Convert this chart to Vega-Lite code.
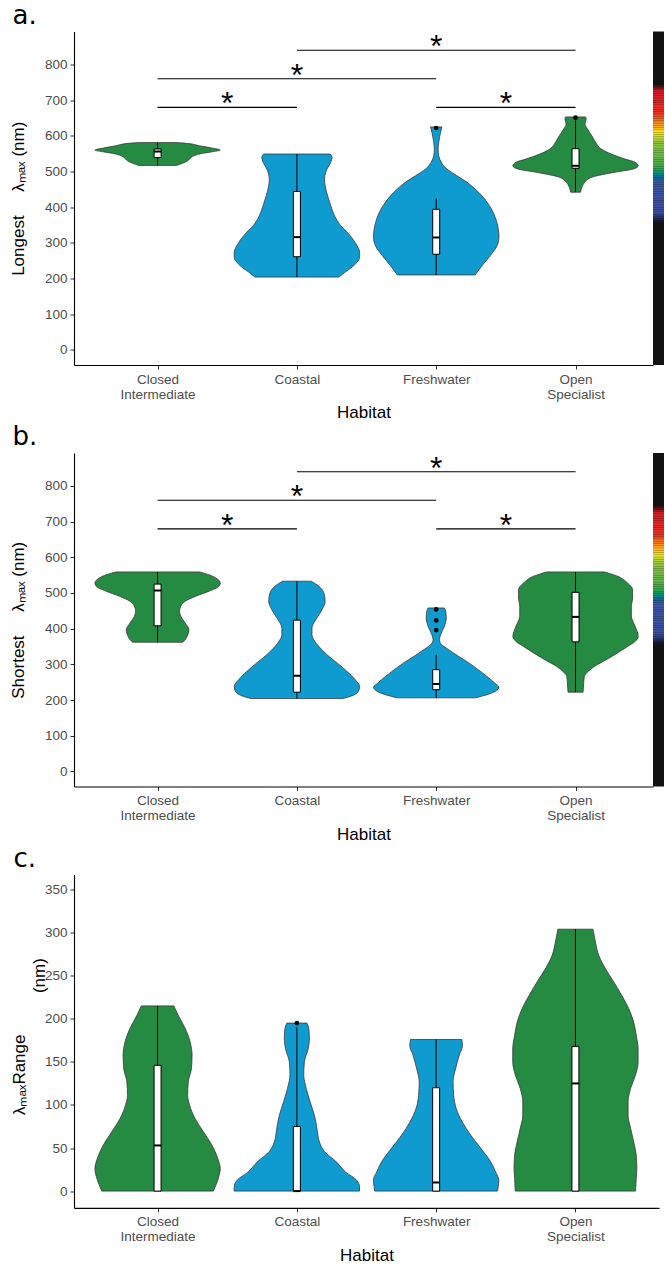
{
  "$schema": "https://vega.github.io/schema/vega-lite/v6.json",
  "padding": {"left": 9, "top": 2.5, "right": 0, "bottom": 0},
  "background": "#ffffff",
  "config": {
    "view": {"stroke": null},
    "axis": {"domainColor": "#000000", "domainWidth": 1.1, "tickColor": "#333333", "tickWidth": 1, "tickSize": 4, "labelColor": "#4d4d4d", "labelFont": "Liberation Sans", "labelFontSize": 13.5, "labelPadding": 3, "titleFont": "Liberation Sans", "titleFontSize": 17, "titleFontWeight": "normal", "titleColor": "#000000", "grid": false},
    "title": {"font": "DejaVu Sans", "fontSize": 26, "fontWeight": "normal", "color": "#000000", "anchor": "start", "frame": "bounds", "offset": 2.5, "dx": 3}
  },
  "datasets": {
    "va": [
      {"habitat": "Closed Intermediate", "v": 581, "density": 0.30}, {"habitat": "Closed Intermediate", "v": 579, "density": 0.46}, {"habitat": "Closed Intermediate", "v": 572, "density": 0.67}, {"habitat": "Closed Intermediate", "v": 566, "density": 0.86}, {"habitat": "Closed Intermediate", "v": 560, "density": 1.00}, {"habitat": "Closed Intermediate", "v": 555, "density": 0.86}, {"habitat": "Closed Intermediate", "v": 551, "density": 0.72}, {"habitat": "Closed Intermediate", "v": 546, "density": 0.61}, {"habitat": "Closed Intermediate", "v": 540, "density": 0.54}, {"habitat": "Closed Intermediate", "v": 530, "density": 0.48}, {"habitat": "Closed Intermediate", "v": 523, "density": 0.40}, {"habitat": "Closed Intermediate", "v": 517, "density": 0.30},
      {"habitat": "Coastal", "v": 549, "density": 0.53}, {"habitat": "Coastal", "v": 540, "density": 0.56}, {"habitat": "Coastal", "v": 526, "density": 0.54}, {"habitat": "Coastal", "v": 507, "density": 0.48}, {"habitat": "Coastal", "v": 479, "density": 0.44}, {"habitat": "Coastal", "v": 460, "density": 0.45}, {"habitat": "Coastal", "v": 432, "density": 0.49}, {"habitat": "Coastal", "v": 404, "density": 0.54}, {"habitat": "Coastal", "v": 376, "density": 0.60}, {"habitat": "Coastal", "v": 348, "density": 0.70}, {"habitat": "Coastal", "v": 330, "density": 0.80}, {"habitat": "Coastal", "v": 311, "density": 0.89}, {"habitat": "Coastal", "v": 292, "density": 0.96}, {"habitat": "Coastal", "v": 274, "density": 1.00}, {"habitat": "Coastal", "v": 260, "density": 1.00}, {"habitat": "Coastal", "v": 246, "density": 0.96}, {"habitat": "Coastal", "v": 232, "density": 0.88}, {"habitat": "Coastal", "v": 218, "density": 0.77}, {"habitat": "Coastal", "v": 204, "density": 0.67},
      {"habitat": "Freshwater", "v": 625, "density": 0.09}, {"habitat": "Freshwater", "v": 610, "density": 0.07}, {"habitat": "Freshwater", "v": 582, "density": 0.04}, {"habitat": "Freshwater", "v": 563, "density": 0.03}, {"habitat": "Freshwater", "v": 544, "density": 0.04}, {"habitat": "Freshwater", "v": 526, "density": 0.08}, {"habitat": "Freshwater", "v": 507, "density": 0.17}, {"habitat": "Freshwater", "v": 488, "density": 0.33}, {"habitat": "Freshwater", "v": 470, "density": 0.49}, {"habitat": "Freshwater", "v": 451, "density": 0.62}, {"habitat": "Freshwater", "v": 432, "density": 0.73}, {"habitat": "Freshwater", "v": 414, "density": 0.81}, {"habitat": "Freshwater", "v": 395, "density": 0.88}, {"habitat": "Freshwater", "v": 367, "density": 0.95}, {"habitat": "Freshwater", "v": 339, "density": 0.99}, {"habitat": "Freshwater", "v": 316, "density": 1.00}, {"habitat": "Freshwater", "v": 292, "density": 0.97}, {"habitat": "Freshwater", "v": 264, "density": 0.86}, {"habitat": "Freshwater", "v": 236, "density": 0.73}, {"habitat": "Freshwater", "v": 210, "density": 0.62},
      {"habitat": "Open Specialist", "v": 653, "density": 0.16}, {"habitat": "Open Specialist", "v": 647, "density": 0.17}, {"habitat": "Open Specialist", "v": 633, "density": 0.15}, {"habitat": "Open Specialist", "v": 619, "density": 0.19}, {"habitat": "Open Specialist", "v": 600, "density": 0.26}, {"habitat": "Open Specialist", "v": 582, "density": 0.32}, {"habitat": "Open Specialist", "v": 563, "density": 0.41}, {"habitat": "Open Specialist", "v": 549, "density": 0.57}, {"habitat": "Open Specialist", "v": 535, "density": 0.79}, {"habitat": "Open Specialist", "v": 526, "density": 0.95}, {"habitat": "Open Specialist", "v": 516, "density": 1.00}, {"habitat": "Open Specialist", "v": 507, "density": 0.92}, {"habitat": "Open Specialist", "v": 498, "density": 0.63}, {"habitat": "Open Specialist", "v": 484, "density": 0.26}, {"habitat": "Open Specialist", "v": 470, "density": 0.15}, {"habitat": "Open Specialist", "v": 456, "density": 0.10}, {"habitat": "Open Specialist", "v": 442, "density": 0.08}
    ],
    "vb": [
      {"habitat": "Closed Intermediate", "v": 559, "density": 0.67}, {"habitat": "Closed Intermediate", "v": 551, "density": 0.82}, {"habitat": "Closed Intermediate", "v": 542, "density": 0.93}, {"habitat": "Closed Intermediate", "v": 528, "density": 1.00}, {"habitat": "Closed Intermediate", "v": 519, "density": 0.98}, {"habitat": "Closed Intermediate", "v": 505, "density": 0.82}, {"habitat": "Closed Intermediate", "v": 491, "density": 0.61}, {"habitat": "Closed Intermediate", "v": 477, "density": 0.44}, {"habitat": "Closed Intermediate", "v": 463, "density": 0.37}, {"habitat": "Closed Intermediate", "v": 449, "density": 0.35}, {"habitat": "Closed Intermediate", "v": 435, "density": 0.37}, {"habitat": "Closed Intermediate", "v": 416, "density": 0.44}, {"habitat": "Closed Intermediate", "v": 397, "density": 0.50}, {"habitat": "Closed Intermediate", "v": 378, "density": 0.47}, {"habitat": "Closed Intermediate", "v": 369, "density": 0.44}, {"habitat": "Closed Intermediate", "v": 362, "density": 0.40},
      {"habitat": "Coastal", "v": 533, "density": 0.23}, {"habitat": "Coastal", "v": 519, "density": 0.35}, {"habitat": "Coastal", "v": 500, "density": 0.43}, {"habitat": "Coastal", "v": 477, "density": 0.45}, {"habitat": "Coastal", "v": 453, "density": 0.40}, {"habitat": "Coastal", "v": 425, "density": 0.30}, {"habitat": "Coastal", "v": 402, "density": 0.24}, {"habitat": "Coastal", "v": 383, "density": 0.24}, {"habitat": "Coastal", "v": 369, "density": 0.27}, {"habitat": "Coastal", "v": 350, "density": 0.35}, {"habitat": "Coastal", "v": 327, "density": 0.48}, {"habitat": "Coastal", "v": 304, "density": 0.64}, {"habitat": "Coastal", "v": 280, "density": 0.80}, {"habitat": "Coastal", "v": 257, "density": 0.93}, {"habitat": "Coastal", "v": 238, "density": 1.00}, {"habitat": "Coastal", "v": 224, "density": 0.98}, {"habitat": "Coastal", "v": 212, "density": 0.88}, {"habitat": "Coastal", "v": 204, "density": 0.73},
      {"habitat": "Freshwater", "v": 458, "density": 0.13}, {"habitat": "Freshwater", "v": 449, "density": 0.15}, {"habitat": "Freshwater", "v": 430, "density": 0.16}, {"habitat": "Freshwater", "v": 407, "density": 0.13}, {"habitat": "Freshwater", "v": 383, "density": 0.07}, {"habitat": "Freshwater", "v": 369, "density": 0.05}, {"habitat": "Freshwater", "v": 355, "density": 0.09}, {"habitat": "Freshwater", "v": 341, "density": 0.20}, {"habitat": "Freshwater", "v": 322, "density": 0.36}, {"habitat": "Freshwater", "v": 304, "density": 0.52}, {"habitat": "Freshwater", "v": 285, "density": 0.67}, {"habitat": "Freshwater", "v": 266, "density": 0.81}, {"habitat": "Freshwater", "v": 248, "density": 0.93}, {"habitat": "Freshwater", "v": 236, "density": 1.00}, {"habitat": "Freshwater", "v": 224, "density": 0.94}, {"habitat": "Freshwater", "v": 215, "density": 0.81}, {"habitat": "Freshwater", "v": 206, "density": 0.62},
      {"habitat": "Open Specialist", "v": 559, "density": 0.46}, {"habitat": "Open Specialist", "v": 547, "density": 0.67}, {"habitat": "Open Specialist", "v": 528, "density": 0.83}, {"habitat": "Open Specialist", "v": 509, "density": 0.91}, {"habitat": "Open Specialist", "v": 486, "density": 0.91}, {"habitat": "Open Specialist", "v": 463, "density": 0.89}, {"habitat": "Open Specialist", "v": 435, "density": 0.89}, {"habitat": "Open Specialist", "v": 407, "density": 0.95}, {"habitat": "Open Specialist", "v": 378, "density": 1.00}, {"habitat": "Open Specialist", "v": 364, "density": 0.95}, {"habitat": "Open Specialist", "v": 350, "density": 0.83}, {"habitat": "Open Specialist", "v": 332, "density": 0.67}, {"habitat": "Open Specialist", "v": 313, "density": 0.49}, {"habitat": "Open Specialist", "v": 294, "density": 0.30}, {"habitat": "Open Specialist", "v": 280, "density": 0.20}, {"habitat": "Open Specialist", "v": 266, "density": 0.14}, {"habitat": "Open Specialist", "v": 248, "density": 0.13}, {"habitat": "Open Specialist", "v": 222, "density": 0.12}
    ],
    "vc": [
      {"habitat": "Closed Intermediate", "v": 215, "density": 0.26}, {"habitat": "Closed Intermediate", "v": 204, "density": 0.33}, {"habitat": "Closed Intermediate", "v": 189, "density": 0.44}, {"habitat": "Closed Intermediate", "v": 173, "density": 0.52}, {"habitat": "Closed Intermediate", "v": 158, "density": 0.55}, {"habitat": "Closed Intermediate", "v": 142, "density": 0.54}, {"habitat": "Closed Intermediate", "v": 127, "density": 0.49}, {"habitat": "Closed Intermediate", "v": 111, "density": 0.48}, {"habitat": "Closed Intermediate", "v": 100, "density": 0.51}, {"habitat": "Closed Intermediate", "v": 84, "density": 0.60}, {"habitat": "Closed Intermediate", "v": 69, "density": 0.73}, {"habitat": "Closed Intermediate", "v": 53, "density": 0.87}, {"habitat": "Closed Intermediate", "v": 38, "density": 0.96}, {"habitat": "Closed Intermediate", "v": 26, "density": 1.00}, {"habitat": "Closed Intermediate", "v": 15, "density": 0.97}, {"habitat": "Closed Intermediate", "v": 5, "density": 0.92}, {"habitat": "Closed Intermediate", "v": 0, "density": 0.89},
      {"habitat": "Coastal", "v": 195, "density": 0.16}, {"habitat": "Coastal", "v": 189, "density": 0.19}, {"habitat": "Coastal", "v": 177, "density": 0.20}, {"habitat": "Coastal", "v": 165, "density": 0.18}, {"habitat": "Coastal", "v": 150, "density": 0.12}, {"habitat": "Coastal", "v": 135, "density": 0.11}, {"habitat": "Coastal", "v": 119, "density": 0.15}, {"habitat": "Coastal", "v": 104, "density": 0.21}, {"habitat": "Coastal", "v": 88, "density": 0.28}, {"habitat": "Coastal", "v": 73, "density": 0.32}, {"habitat": "Coastal", "v": 57, "density": 0.36}, {"habitat": "Coastal", "v": 46, "density": 0.44}, {"habitat": "Coastal", "v": 34, "density": 0.63}, {"habitat": "Coastal", "v": 22, "density": 0.78}, {"habitat": "Coastal", "v": 13, "density": 0.95}, {"habitat": "Coastal", "v": 5, "density": 1.00}, {"habitat": "Coastal", "v": 0, "density": 1.00},
      {"habitat": "Freshwater", "v": 176, "density": 0.41}, {"habitat": "Freshwater", "v": 169, "density": 0.42}, {"habitat": "Freshwater", "v": 158, "density": 0.37}, {"habitat": "Freshwater", "v": 142, "density": 0.31}, {"habitat": "Freshwater", "v": 127, "density": 0.27}, {"habitat": "Freshwater", "v": 111, "density": 0.28}, {"habitat": "Freshwater", "v": 96, "density": 0.32}, {"habitat": "Freshwater", "v": 80, "density": 0.42}, {"habitat": "Freshwater", "v": 65, "density": 0.55}, {"habitat": "Freshwater", "v": 50, "density": 0.71}, {"habitat": "Freshwater", "v": 34, "density": 0.87}, {"habitat": "Freshwater", "v": 22, "density": 0.95}, {"habitat": "Freshwater", "v": 13, "density": 1.00}, {"habitat": "Freshwater", "v": 5, "density": 0.99}, {"habitat": "Freshwater", "v": 0, "density": 0.98},
      {"habitat": "Open Specialist", "v": 304, "density": 0.28}, {"habitat": "Open Specialist", "v": 289, "density": 0.32}, {"habitat": "Open Specialist", "v": 274, "density": 0.37}, {"habitat": "Open Specialist", "v": 258, "density": 0.48}, {"habitat": "Open Specialist", "v": 243, "density": 0.61}, {"habitat": "Open Specialist", "v": 227, "density": 0.74}, {"habitat": "Open Specialist", "v": 212, "density": 0.85}, {"habitat": "Open Specialist", "v": 196, "density": 0.93}, {"habitat": "Open Specialist", "v": 181, "density": 0.97}, {"habitat": "Open Specialist", "v": 165, "density": 1.00}, {"habitat": "Open Specialist", "v": 150, "density": 1.00}, {"habitat": "Open Specialist", "v": 135, "density": 0.96}, {"habitat": "Open Specialist", "v": 119, "density": 0.88}, {"habitat": "Open Specialist", "v": 104, "density": 0.84}, {"habitat": "Open Specialist", "v": 88, "density": 0.84}, {"habitat": "Open Specialist", "v": 73, "density": 0.88}, {"habitat": "Open Specialist", "v": 57, "density": 0.93}, {"habitat": "Open Specialist", "v": 42, "density": 0.97}, {"habitat": "Open Specialist", "v": 26, "density": 0.98}, {"habitat": "Open Specialist", "v": 15, "density": 0.97}, {"habitat": "Open Specialist", "v": 0, "density": 0.96}
    ],
    "ba": [
      {"habitat": "Closed Intermediate", "lower": 517, "q1": 539, "median": 556, "q3": 563, "upper": 580},
      {"habitat": "Coastal", "lower": 204, "q1": 261, "median": 316, "q3": 444, "upper": 549},
      {"habitat": "Freshwater", "lower": 210, "q1": 268, "median": 315, "q3": 394, "upper": 425},
      {"habitat": "Open Specialist", "lower": 442, "q1": 509, "median": 516, "q3": 564, "upper": 643}
    ],
    "bb": [
      {"habitat": "Closed Intermediate", "lower": 362, "q1": 408, "median": 507, "q3": 525, "upper": 559},
      {"habitat": "Coastal", "lower": 204, "q1": 222, "median": 268, "q3": 424, "upper": 533},
      {"habitat": "Freshwater", "lower": 206, "q1": 229, "median": 245, "q3": 285, "upper": 327},
      {"habitat": "Open Specialist", "lower": 222, "q1": 363, "median": 433, "q3": 502, "upper": 559}
    ],
    "bc": [
      {"habitat": "Closed Intermediate", "lower": 0, "q1": 0, "median": 53, "q3": 146, "upper": 215},
      {"habitat": "Coastal", "lower": 0, "q1": 0, "median": 0, "q3": 75, "upper": 190},
      {"habitat": "Freshwater", "lower": 0, "q1": 0, "median": 10, "q3": 120, "upper": 176},
      {"habitat": "Open Specialist", "lower": 0, "q1": 0, "median": 125, "q3": 168, "upper": 304}
    ],
    "oa": [{"habitat": "Freshwater", "v": 622}, {"habitat": "Open Specialist", "v": 651}],
    "ob": [{"habitat": "Freshwater", "v": 454}, {"habitat": "Freshwater", "v": 423}, {"habitat": "Freshwater", "v": 396}],
    "oc": [{"habitat": "Coastal", "v": 195}],
    "sig": [
      {"pair": "Closed Intermediate vs Coastal", "xmin": 1, "xmax": 2, "y": 680, "label": "*"},
      {"pair": "Closed Intermediate vs Freshwater", "xmin": 1, "xmax": 3, "y": 760, "label": "*"},
      {"pair": "Coastal vs Open Specialist", "xmin": 2, "xmax": 4, "y": 840, "label": "*"},
      {"pair": "Freshwater vs Open Specialist", "xmin": 3, "xmax": 4, "y": 680, "label": "*"}
    ],
    "spec": [
      {"nm": 357.5}, {"nm": 362.5}, {"nm": 367.5}, {"nm": 372.5}, {"nm": 377.5}, {"nm": 382.5}, {"nm": 387.5}, {"nm": 392.5}, {"nm": 397.5}, {"nm": 402.5},
      {"nm": 407.5}, {"nm": 412.5}, {"nm": 417.5}, {"nm": 422.5}, {"nm": 427.5}, {"nm": 432.5}, {"nm": 437.5}, {"nm": 442.5}, {"nm": 447.5}, {"nm": 452.5},
      {"nm": 457.5}, {"nm": 462.5}, {"nm": 467.5}, {"nm": 472.5}, {"nm": 477.5}, {"nm": 482.5}, {"nm": 487.5}, {"nm": 492.5}, {"nm": 497.5}, {"nm": 502.5},
      {"nm": 507.5}, {"nm": 512.5}, {"nm": 517.5}, {"nm": 522.5}, {"nm": 527.5}, {"nm": 532.5}, {"nm": 537.5}, {"nm": 542.5}, {"nm": 547.5}, {"nm": 552.5},
      {"nm": 557.5}, {"nm": 562.5}, {"nm": 567.5}, {"nm": 572.5}, {"nm": 577.5}, {"nm": 582.5}, {"nm": 587.5}, {"nm": 592.5}, {"nm": 597.5}, {"nm": 602.5},
      {"nm": 607.5}, {"nm": 612.5}, {"nm": 617.5}, {"nm": 622.5}, {"nm": 627.5}, {"nm": 632.5}, {"nm": 637.5}, {"nm": 642.5}, {"nm": 647.5}, {"nm": 652.5},
      {"nm": 657.5}, {"nm": 662.5}, {"nm": 667.5}, {"nm": 672.5}, {"nm": 677.5}, {"nm": 682.5}, {"nm": 687.5}, {"nm": 692.5}, {"nm": 697.5}, {"nm": 702.5},
      {"nm": 707.5}, {"nm": 712.5}, {"nm": 717.5}, {"nm": 722.5}, {"nm": 727.5}, {"nm": 732.5}, {"nm": 737.5}, {"nm": 742.5}, {"nm": 747.5}, {"nm": 752.5}, {"nm": 757.5}
    ]
  },
  "vconcat": [
    {
      "hconcat": [
        {
          "width": 579, "height": 333.5,
          "title": {"text": "a."},
          "resolve": {"scale": {"x": "independent"}},
          "layer": [
            {"data": {"name": "va"}, "transform": [{"filter": "datum.habitat === 'Closed Intermediate'"}],
             "mark": {"type": "area", "orient": "horizontal", "interpolate": "monotone", "stroke": "#383838", "strokeWidth": 0.8, "opacity": 1},
             "encoding": {
               "y": {"field": "v", "type": "quantitative", "scale": {"domain": [-42.5, 892.5], "nice": false, "zero": false},
                     "axis": {"values": [0, 100, 200, 300, 400, 500, 600, 700, 800], "title": "Longest\u00a0\u00a0\u00a0\u00a0\u00a0\u03bb\u2098\u2090\u2093 (nm)", "titlePadding": 17}},
               "x": {"field": "density", "type": "quantitative", "stack": "center", "scale": {"domain": [-0.1667, 4.4509], "nice": false, "zero": false}, "axis": null},
               "color": {"field": "habitat", "type": "nominal", "scale": {"domain": ["Closed Intermediate", "Coastal", "Freshwater", "Open Specialist"], "range": ["#268b42", "#0f9ad0", "#0f9ad0", "#268b42"]}, "legend": null}
             }},
            {"data": {"name": "va"}, "transform": [{"filter": "datum.habitat === 'Coastal'"}],
             "mark": {"type": "area", "orient": "horizontal", "interpolate": "monotone", "stroke": "#383838", "strokeWidth": 0.8, "opacity": 1},
             "encoding": {
               "y": {"field": "v", "type": "quantitative", "scale": {"domain": [-42.5, 892.5], "nice": false, "zero": false}},
               "x": {"field": "density", "type": "quantitative", "stack": "center", "scale": {"domain": [-1.2778, 3.3398], "nice": false, "zero": false}, "axis": null},
               "color": {"field": "habitat", "type": "nominal", "scale": {"domain": ["Closed Intermediate", "Coastal", "Freshwater", "Open Specialist"], "range": ["#268b42", "#0f9ad0", "#0f9ad0", "#268b42"]}, "legend": null}
             }},
            {"data": {"name": "va"}, "transform": [{"filter": "datum.habitat === 'Freshwater'"}],
             "mark": {"type": "area", "orient": "horizontal", "interpolate": "monotone", "stroke": "#383838", "strokeWidth": 0.8, "opacity": 1},
             "encoding": {
               "y": {"field": "v", "type": "quantitative", "scale": {"domain": [-42.5, 892.5], "nice": false, "zero": false}},
               "x": {"field": "density", "type": "quantitative", "stack": "center", "scale": {"domain": [-2.3889, 2.2287], "nice": false, "zero": false}, "axis": null},
               "color": {"field": "habitat", "type": "nominal", "scale": {"domain": ["Closed Intermediate", "Coastal", "Freshwater", "Open Specialist"], "range": ["#268b42", "#0f9ad0", "#0f9ad0", "#268b42"]}, "legend": null}
             }},
            {"data": {"name": "va"}, "transform": [{"filter": "datum.habitat === 'Open Specialist'"}],
             "mark": {"type": "area", "orient": "horizontal", "interpolate": "monotone", "stroke": "#383838", "strokeWidth": 0.8, "opacity": 1},
             "encoding": {
               "y": {"field": "v", "type": "quantitative", "scale": {"domain": [-42.5, 892.5], "nice": false, "zero": false}},
               "x": {"field": "density", "type": "quantitative", "stack": "center", "scale": {"domain": [-3.5, 1.1176], "nice": false, "zero": false}, "axis": null},
               "color": {"field": "habitat", "type": "nominal", "scale": {"domain": ["Closed Intermediate", "Coastal", "Freshwater", "Open Specialist"], "range": ["#268b42", "#0f9ad0", "#0f9ad0", "#268b42"]}, "legend": null}
             }},
            {"data": {"name": "ba"},
             "mark": {"type": "rule", "color": "#000000", "strokeWidth": 1},
             "encoding": {
               "x": {"field": "habitat", "type": "nominal", "scale": {"type": "point", "domain": ["Closed Intermediate", "Coastal", "Freshwater", "Open Specialist"], "padding": 0.578, "align": 0.519}, "axis": null},
               "y": {"field": "lower", "type": "quantitative", "scale": {"domain": [-42.5, 892.5], "nice": false, "zero": false}},
               "y2": {"field": "upper"}
             }},
            {"data": {"name": "ba"},
             "mark": {"type": "bar", "width": 7, "fill": "#ffffff", "stroke": "#000000", "strokeWidth": 1},
             "encoding": {
               "x": {"field": "habitat", "type": "nominal", "scale": {"type": "point", "domain": ["Closed Intermediate", "Coastal", "Freshwater", "Open Specialist"], "padding": 0.578, "align": 0.519},
                     "axis": {"title": "Habitat", "labelAngle": 0, "labelExpr": "split(datum.label, ' ')", "labelLineHeight": 15, "titlePadding": 4}},
               "y": {"field": "q1", "type": "quantitative", "scale": {"domain": [-42.5, 892.5], "nice": false, "zero": false}},
               "y2": {"field": "q3"}
             }},
            {"data": {"name": "ba"},
             "mark": {"type": "tick", "size": 7, "thickness": 2, "color": "#000000", "opacity": 1},
             "encoding": {
               "x": {"field": "habitat", "type": "nominal", "scale": {"type": "point", "domain": ["Closed Intermediate", "Coastal", "Freshwater", "Open Specialist"], "padding": 0.578, "align": 0.519}, "axis": null},
               "y": {"field": "median", "type": "quantitative", "scale": {"domain": [-42.5, 892.5], "nice": false, "zero": false}}
             }},
            {"data": {"name": "oa"},
             "mark": {"type": "circle", "size": 22, "color": "#000000", "opacity": 1},
             "encoding": {
               "x": {"field": "habitat", "type": "nominal", "scale": {"type": "point", "domain": ["Closed Intermediate", "Coastal", "Freshwater", "Open Specialist"], "padding": 0.578, "align": 0.519}, "axis": null},
               "y": {"field": "v", "type": "quantitative", "scale": {"domain": [-42.5, 892.5], "nice": false, "zero": false}}
             }},
            {"data": {"name": "sig"},
             "mark": {"type": "rule", "color": "#000000", "strokeWidth": 1.2},
             "encoding": {
               "x": {"field": "xmin", "type": "quantitative", "scale": {"domain": [0.4, 4.5558], "nice": false, "zero": false}, "axis": null},
               "x2": {"field": "xmax"},
               "y": {"field": "y", "type": "quantitative", "scale": {"domain": [-42.5, 892.5], "nice": false, "zero": false}}
             }},
            {"data": {"name": "sig"},
             "transform": [{"fold": ["xmin", "xmax"], "as": ["end", "xpos"]}],
             "mark": {"type": "text", "font": "Liberation Sans", "fontSize": 32, "baseline": "alphabetic", "dy": 7, "color": "#000000"},
             "encoding": {
               "x": {"field": "xpos", "aggregate": "mean", "type": "quantitative", "scale": {"domain": [0.4, 4.5558], "nice": false, "zero": false}, "axis": null},
               "y": {"field": "y", "type": "quantitative", "scale": {"domain": [-42.5, 892.5], "nice": false, "zero": false}},
               "detail": {"field": "pair", "type": "nominal"},
               "text": {"field": "label", "type": "nominal"}
             }}
          ]
        },
        {
          "width": 11, "height": 333.5,
          "data": {"name": "spec"},
          "view": {"fill": "#121212", "stroke": null},
          "mark": {"type": "rect"},
          "encoding": {
            "y": {"field": "nm", "type": "quantitative", "bin": {"step": 5, "extent": [355, 760]}, "scale": {"domain": [-42.5, 892.5], "nice": false, "zero": false}, "axis": null},
            "color": {"field": "nm", "type": "quantitative", "scale": {"type": "linear", "domain": [355, 363, 376, 388, 478, 490, 503, 515, 545, 583, 597, 610, 625, 642, 662, 700, 727, 737, 747, 760], "range": ["#121212", "#16183a", "#2a3a80", "#3a4ea2", "#3b58a8", "#22788c", "#14a04f", "#3aac4a", "#6cba46", "#8ec63f", "#c5d632", "#f2e41c", "#fbb71d", "#f57f20", "#ee3524", "#e62027", "#cf1f26", "#6a1212", "#181010", "#121212"]}, "legend": null}
          }
        }
      ],
      "spacing": 0, "bounds": "flush"
    },
    {
      "hconcat": [
        {
          "width": 579, "height": 333.5,
          "title": {"text": "b."},
          "resolve": {"scale": {"x": "independent"}},
          "layer": [
            {"data": {"name": "vb"}, "transform": [{"filter": "datum.habitat === 'Closed Intermediate'"}],
             "mark": {"type": "area", "orient": "horizontal", "interpolate": "monotone", "stroke": "#383838", "strokeWidth": 0.8, "opacity": 1},
             "encoding": {
               "y": {"field": "v", "type": "quantitative", "scale": {"domain": [-42.5, 892.5], "nice": false, "zero": false},
                     "axis": {"values": [0, 100, 200, 300, 400, 500, 600, 700, 800], "title": "Shortest\u00a0\u00a0\u00a0\u00a0\u00a0\u03bb\u2098\u2090\u2093 (nm)", "titlePadding": 17}},
               "x": {"field": "density", "type": "quantitative", "stack": "center", "scale": {"domain": [-0.1667, 4.4509], "nice": false, "zero": false}, "axis": null},
               "color": {"field": "habitat", "type": "nominal", "scale": {"domain": ["Closed Intermediate", "Coastal", "Freshwater", "Open Specialist"], "range": ["#268b42", "#0f9ad0", "#0f9ad0", "#268b42"]}, "legend": null}
             }},
            {"data": {"name": "vb"}, "transform": [{"filter": "datum.habitat === 'Coastal'"}],
             "mark": {"type": "area", "orient": "horizontal", "interpolate": "monotone", "stroke": "#383838", "strokeWidth": 0.8, "opacity": 1},
             "encoding": {
               "y": {"field": "v", "type": "quantitative", "scale": {"domain": [-42.5, 892.5], "nice": false, "zero": false}},
               "x": {"field": "density", "type": "quantitative", "stack": "center", "scale": {"domain": [-1.2778, 3.3398], "nice": false, "zero": false}, "axis": null},
               "color": {"field": "habitat", "type": "nominal", "scale": {"domain": ["Closed Intermediate", "Coastal", "Freshwater", "Open Specialist"], "range": ["#268b42", "#0f9ad0", "#0f9ad0", "#268b42"]}, "legend": null}
             }},
            {"data": {"name": "vb"}, "transform": [{"filter": "datum.habitat === 'Freshwater'"}],
             "mark": {"type": "area", "orient": "horizontal", "interpolate": "monotone", "stroke": "#383838", "strokeWidth": 0.8, "opacity": 1},
             "encoding": {
               "y": {"field": "v", "type": "quantitative", "scale": {"domain": [-42.5, 892.5], "nice": false, "zero": false}},
               "x": {"field": "density", "type": "quantitative", "stack": "center", "scale": {"domain": [-2.3889, 2.2287], "nice": false, "zero": false}, "axis": null},
               "color": {"field": "habitat", "type": "nominal", "scale": {"domain": ["Closed Intermediate", "Coastal", "Freshwater", "Open Specialist"], "range": ["#268b42", "#0f9ad0", "#0f9ad0", "#268b42"]}, "legend": null}
             }},
            {"data": {"name": "vb"}, "transform": [{"filter": "datum.habitat === 'Open Specialist'"}],
             "mark": {"type": "area", "orient": "horizontal", "interpolate": "monotone", "stroke": "#383838", "strokeWidth": 0.8, "opacity": 1},
             "encoding": {
               "y": {"field": "v", "type": "quantitative", "scale": {"domain": [-42.5, 892.5], "nice": false, "zero": false}},
               "x": {"field": "density", "type": "quantitative", "stack": "center", "scale": {"domain": [-3.5, 1.1176], "nice": false, "zero": false}, "axis": null},
               "color": {"field": "habitat", "type": "nominal", "scale": {"domain": ["Closed Intermediate", "Coastal", "Freshwater", "Open Specialist"], "range": ["#268b42", "#0f9ad0", "#0f9ad0", "#268b42"]}, "legend": null}
             }},
            {"data": {"name": "bb"},
             "mark": {"type": "rule", "color": "#000000", "strokeWidth": 1},
             "encoding": {
               "x": {"field": "habitat", "type": "nominal", "scale": {"type": "point", "domain": ["Closed Intermediate", "Coastal", "Freshwater", "Open Specialist"], "padding": 0.578, "align": 0.519}, "axis": null},
               "y": {"field": "lower", "type": "quantitative", "scale": {"domain": [-42.5, 892.5], "nice": false, "zero": false}},
               "y2": {"field": "upper"}
             }},
            {"data": {"name": "bb"},
             "mark": {"type": "bar", "width": 7, "fill": "#ffffff", "stroke": "#000000", "strokeWidth": 1},
             "encoding": {
               "x": {"field": "habitat", "type": "nominal", "scale": {"type": "point", "domain": ["Closed Intermediate", "Coastal", "Freshwater", "Open Specialist"], "padding": 0.578, "align": 0.519},
                     "axis": {"title": "Habitat", "labelAngle": 0, "labelExpr": "split(datum.label, ' ')", "labelLineHeight": 15, "titlePadding": 4}},
               "y": {"field": "q1", "type": "quantitative", "scale": {"domain": [-42.5, 892.5], "nice": false, "zero": false}},
               "y2": {"field": "q3"}
             }},
            {"data": {"name": "bb"},
             "mark": {"type": "tick", "size": 7, "thickness": 2, "color": "#000000", "opacity": 1},
             "encoding": {
               "x": {"field": "habitat", "type": "nominal", "scale": {"type": "point", "domain": ["Closed Intermediate", "Coastal", "Freshwater", "Open Specialist"], "padding": 0.578, "align": 0.519}, "axis": null},
               "y": {"field": "median", "type": "quantitative", "scale": {"domain": [-42.5, 892.5], "nice": false, "zero": false}}
             }},
            {"data": {"name": "ob"},
             "mark": {"type": "circle", "size": 22, "color": "#000000", "opacity": 1},
             "encoding": {
               "x": {"field": "habitat", "type": "nominal", "scale": {"type": "point", "domain": ["Closed Intermediate", "Coastal", "Freshwater", "Open Specialist"], "padding": 0.578, "align": 0.519}, "axis": null},
               "y": {"field": "v", "type": "quantitative", "scale": {"domain": [-42.5, 892.5], "nice": false, "zero": false}}
             }},
            {"data": {"name": "sig"},
             "mark": {"type": "rule", "color": "#000000", "strokeWidth": 1.2},
             "encoding": {
               "x": {"field": "xmin", "type": "quantitative", "scale": {"domain": [0.4, 4.5558], "nice": false, "zero": false}, "axis": null},
               "x2": {"field": "xmax"},
               "y": {"field": "y", "type": "quantitative", "scale": {"domain": [-42.5, 892.5], "nice": false, "zero": false}}
             }},
            {"data": {"name": "sig"},
             "transform": [{"fold": ["xmin", "xmax"], "as": ["end", "xpos"]}],
             "mark": {"type": "text", "font": "Liberation Sans", "fontSize": 32, "baseline": "alphabetic", "dy": 7, "color": "#000000"},
             "encoding": {
               "x": {"field": "xpos", "aggregate": "mean", "type": "quantitative", "scale": {"domain": [0.4, 4.5558], "nice": false, "zero": false}, "axis": null},
               "y": {"field": "y", "type": "quantitative", "scale": {"domain": [-42.5, 892.5], "nice": false, "zero": false}},
               "detail": {"field": "pair", "type": "nominal"},
               "text": {"field": "label", "type": "nominal"}
             }}
          ]
        },
        {
          "width": 11, "height": 333.5,
          "data": {"name": "spec"},
          "view": {"fill": "#121212", "stroke": null},
          "mark": {"type": "rect"},
          "encoding": {
            "y": {"field": "nm", "type": "quantitative", "bin": {"step": 5, "extent": [355, 760]}, "scale": {"domain": [-42.5, 892.5], "nice": false, "zero": false}, "axis": null},
            "color": {"field": "nm", "type": "quantitative", "scale": {"type": "linear", "domain": [355, 363, 376, 388, 478, 490, 503, 515, 545, 583, 597, 610, 625, 642, 662, 700, 727, 737, 747, 760], "range": ["#121212", "#16183a", "#2a3a80", "#3a4ea2", "#3b58a8", "#22788c", "#14a04f", "#3aac4a", "#6cba46", "#8ec63f", "#c5d632", "#f2e41c", "#fbb71d", "#f57f20", "#ee3524", "#e62027", "#cf1f26", "#6a1212", "#181010", "#121212"]}, "legend": null}
          }
        }
      ],
      "spacing": 0, "bounds": "flush"
    },
    {
      "width": 585, "height": 333.4,
      "title": {"text": "c."},
      "resolve": {"scale": {"x": "independent"}},
      "layer": [
        {"data": {"name": "vc"}, "transform": [{"filter": "datum.habitat === 'Closed Intermediate'"}],
         "mark": {"type": "area", "orient": "horizontal", "interpolate": "monotone", "stroke": "#383838", "strokeWidth": 0.8, "opacity": 1},
         "encoding": {
           "y": {"field": "v", "type": "quantitative", "scale": {"domain": [-19.5, 367.5], "nice": false, "zero": false},
                 "axis": {"values": [0, 50, 100, 150, 200, 250, 300, 350], "title": ["\u03bb\u2098\u2090\u2093Range\u00a0\u00a0\u00a0\u00a0\u00a0\u00a0\u00a0\u00a0\u00a0\u00a0\u00a0\u00a0\u00a0\u00a0\u200b", "\u200b\u00a0\u00a0\u00a0\u00a0\u00a0\u00a0\u00a0\u00a0\u00a0\u00a0\u00a0\u00a0\u00a0\u00a0\u00a0\u00a0\u00a0\u00a0\u00a0\u00a0\u00a0\u00a0\u00a0\u00a0\u00a0\u00a0\u00a0\u00a0(nm)"], "titlePadding": -4, "titleLineHeight": 20}},
           "x": {"field": "density", "type": "quantitative", "stack": "center", "scale": {"domain": [-0.1667, 4.5], "nice": false, "zero": false}, "axis": null},
           "color": {"field": "habitat", "type": "nominal", "scale": {"domain": ["Closed Intermediate", "Coastal", "Freshwater", "Open Specialist"], "range": ["#268b42", "#0f9ad0", "#0f9ad0", "#268b42"]}, "legend": null}
         }},
        {"data": {"name": "vc"}, "transform": [{"filter": "datum.habitat === 'Coastal'"}],
         "mark": {"type": "area", "orient": "horizontal", "interpolate": "monotone", "stroke": "#383838", "strokeWidth": 0.8, "opacity": 1},
         "encoding": {
           "y": {"field": "v", "type": "quantitative", "scale": {"domain": [-19.5, 367.5], "nice": false, "zero": false}},
           "x": {"field": "density", "type": "quantitative", "stack": "center", "scale": {"domain": [-1.2778, 3.3889], "nice": false, "zero": false}, "axis": null},
           "color": {"field": "habitat", "type": "nominal", "scale": {"domain": ["Closed Intermediate", "Coastal", "Freshwater", "Open Specialist"], "range": ["#268b42", "#0f9ad0", "#0f9ad0", "#268b42"]}, "legend": null}
         }},
        {"data": {"name": "vc"}, "transform": [{"filter": "datum.habitat === 'Freshwater'"}],
         "mark": {"type": "area", "orient": "horizontal", "interpolate": "monotone", "stroke": "#383838", "strokeWidth": 0.8, "opacity": 1},
         "encoding": {
           "y": {"field": "v", "type": "quantitative", "scale": {"domain": [-19.5, 367.5], "nice": false, "zero": false}},
           "x": {"field": "density", "type": "quantitative", "stack": "center", "scale": {"domain": [-2.3889, 2.2778], "nice": false, "zero": false}, "axis": null},
           "color": {"field": "habitat", "type": "nominal", "scale": {"domain": ["Closed Intermediate", "Coastal", "Freshwater", "Open Specialist"], "range": ["#268b42", "#0f9ad0", "#0f9ad0", "#268b42"]}, "legend": null}
         }},
        {"data": {"name": "vc"}, "transform": [{"filter": "datum.habitat === 'Open Specialist'"}],
         "mark": {"type": "area", "orient": "horizontal", "interpolate": "monotone", "stroke": "#383838", "strokeWidth": 0.8, "opacity": 1},
         "encoding": {
           "y": {"field": "v", "type": "quantitative", "scale": {"domain": [-19.5, 367.5], "nice": false, "zero": false}},
           "x": {"field": "density", "type": "quantitative", "stack": "center", "scale": {"domain": [-3.5, 1.1667], "nice": false, "zero": false}, "axis": null},
           "color": {"field": "habitat", "type": "nominal", "scale": {"domain": ["Closed Intermediate", "Coastal", "Freshwater", "Open Specialist"], "range": ["#268b42", "#0f9ad0", "#0f9ad0", "#268b42"]}, "legend": null}
         }},
        {"data": {"name": "bc"},
         "mark": {"type": "rule", "color": "#000000", "strokeWidth": 1},
         "encoding": {
           "x": {"field": "habitat", "type": "nominal", "scale": {"type": "point", "domain": ["Closed Intermediate", "Coastal", "Freshwater", "Open Specialist"], "padding": 0.6}, "axis": null},
           "y": {"field": "lower", "type": "quantitative", "scale": {"domain": [-19.5, 367.5], "nice": false, "zero": false}},
           "y2": {"field": "upper"}
         }},
        {"data": {"name": "bc"},
         "mark": {"type": "bar", "width": 7, "fill": "#ffffff", "stroke": "#000000", "strokeWidth": 1},
         "encoding": {
           "x": {"field": "habitat", "type": "nominal", "scale": {"type": "point", "domain": ["Closed Intermediate", "Coastal", "Freshwater", "Open Specialist"], "padding": 0.6},
                 "axis": {"title": "Habitat", "labelAngle": 0, "labelExpr": "split(datum.label, ' ')", "labelLineHeight": 15, "titlePadding": 4}},
           "y": {"field": "q1", "type": "quantitative", "scale": {"domain": [-19.5, 367.5], "nice": false, "zero": false}},
           "y2": {"field": "q3"}
         }},
        {"data": {"name": "bc"},
         "mark": {"type": "tick", "size": 7, "thickness": 2, "color": "#000000", "opacity": 1},
         "encoding": {
           "x": {"field": "habitat", "type": "nominal", "scale": {"type": "point", "domain": ["Closed Intermediate", "Coastal", "Freshwater", "Open Specialist"], "padding": 0.6}, "axis": null},
           "y": {"field": "median", "type": "quantitative", "scale": {"domain": [-19.5, 367.5], "nice": false, "zero": false}}
         }},
        {"data": {"name": "oc"},
         "mark": {"type": "circle", "size": 22, "color": "#000000", "opacity": 1},
         "encoding": {
           "x": {"field": "habitat", "type": "nominal", "scale": {"type": "point", "domain": ["Closed Intermediate", "Coastal", "Freshwater", "Open Specialist"], "padding": 0.6}, "axis": null},
           "y": {"field": "v", "type": "quantitative", "scale": {"domain": [-19.5, 367.5], "nice": false, "zero": false}}
         }}
      ]
    }
  ],
  "spacing": 3.5
}
